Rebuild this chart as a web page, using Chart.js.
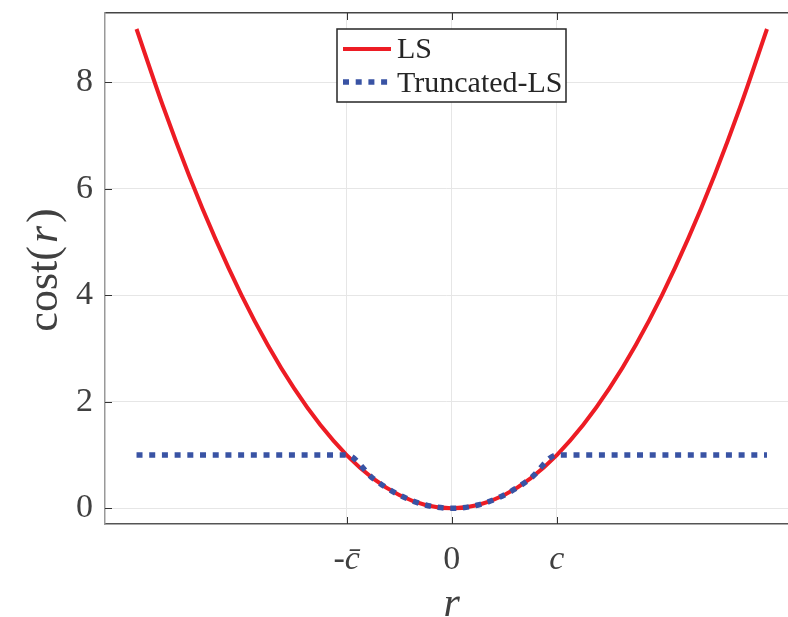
<!DOCTYPE html>
<html>
<head>
<meta charset="utf-8">
<script src="https://cdn.jsdelivr.net/npm/chart.js@4.4.1/dist/chart.umd.min.js"></script>
<style>
html,body{margin:0;padding:0;background:#fff;overflow:hidden;}
canvas{display:block;}
</style>
</head>
<body>
<canvas id="c" width="788" height="617"></canvas>
<script>
// ---- data ----
const rValues = [-3, -2.75, -2.5, -2.25, -2, -1.75, -1.5, -1.25, -1, -0.75, -0.5, -0.25, 0,
                 0.25, 0.5, 0.75, 1, 1.25, 1.5, 1.75, 2, 2.25, 2.5, 2.75, 3];
const lsCost = [9, 7.5625, 6.25, 5.0625, 4, 3.0625, 2.25, 1.5625, 1, 0.5625, 0.25, 0.0625, 0,
                0.0625, 0.25, 0.5625, 1, 1.5625, 2.25, 3.0625, 4, 5.0625, 6.25, 7.5625, 9];
const truncCost = [1, 1, 1, 1, 1, 1, 1, 1, 1, 0.5625, 0.25, 0.0625, 0,
                   0.0625, 0.25, 0.5625, 1, 1, 1, 1, 1, 1, 1, 1, 1];
const xTickValues = [-1, 0, 1];
const xTickLabels = ['-c\u0304', '0', 'c'];
const yTickValues = [0, 2, 4, 6, 8];
const seriesNames = ['LS', 'Truncated-LS'];

const RED = '#ED1C24';
const BLUE = '#3953A4';
const SERIF = '"Liberation Serif", "DejaVu Serif", serif';

const toPts = (xs, ys) => xs.map((x, i) => ({x: x, y: ys[i]}));

const decor = {
  id: 'decor',
  afterDraw(chart) {
    const ctx = chart.ctx;
    const a = chart.chartArea;
    const xs = chart.scales.x, ys = chart.scales.y;
    ctx.save();
    // inward tick marks
    ctx.strokeStyle = '#333';
    ctx.lineWidth = 1;
    ctx.beginPath();
    xTickValues.forEach(v => {
      const px = Math.round(xs.getPixelForValue(v)) + 0.5;
      ctx.moveTo(px, a.bottom); ctx.lineTo(px, a.bottom - 7);
      ctx.moveTo(px, a.top); ctx.lineTo(px, a.top + 7);
    });
    yTickValues.forEach(v => {
      const py = Math.round(ys.getPixelForValue(v)) + 0.5;
      ctx.moveTo(a.left, py); ctx.lineTo(a.left + 7, py);
    });
    ctx.stroke();

    // legend
    const lx = 337, ly = 29, lw = 229, lh = 73;
    ctx.fillStyle = '#fff';
    ctx.fillRect(lx, ly, lw, lh);
    ctx.strokeStyle = '#262626';
    ctx.lineWidth = 1.5;
    ctx.strokeRect(lx, ly, lw, lh);
    ctx.lineCap = 'butt';
    ctx.strokeStyle = RED; ctx.lineWidth = 4;
    ctx.beginPath(); ctx.moveTo(343, 49); ctx.lineTo(391, 49); ctx.stroke();
    ctx.strokeStyle = BLUE; ctx.lineWidth = 5.5; ctx.setLineDash([6, 6.7]);
    ctx.beginPath(); ctx.moveTo(343, 82); ctx.lineTo(391, 82); ctx.stroke();
    ctx.setLineDash([]);
    ctx.fillStyle = '#262626';
    ctx.font = '30px ' + SERIF;
    ctx.textBaseline = 'middle';
    ctx.textAlign = 'left';
    ctx.fillText(seriesNames[0], 397, 50);
    ctx.fillText(seriesNames[1], 397, 84);

    // axis titles
    ctx.fillStyle = '#404040';
    ctx.font = 'italic 42px ' + SERIF;
    ctx.textAlign = 'center';
    ctx.textBaseline = 'alphabetic';
    ctx.fillText('r', xs.getPixelForValue(0), 616);
    // y title rotated
    ctx.save();
    ctx.translate(57, 270);
    ctx.rotate(-Math.PI / 2);
    const FS = 44;
    const parts = [['cost(', 'normal', 0], ['r', 'italic', 3], [')', 'normal', 0]];
    let total = 0;
    parts.forEach(p => { ctx.font = p[1] + ' ' + FS + 'px ' + SERIF; total += ctx.measureText(p[0]).width + 2 * p[2]; });
    let cx = -total / 2;
    ctx.textAlign = 'left';
    parts.forEach(p => {
      ctx.font = p[1] + ' ' + FS + 'px ' + SERIF;
      cx += p[2];
      ctx.fillText(p[0], cx, 0);
      cx += ctx.measureText(p[0]).width + p[2];
    });
    ctx.restore();
    ctx.restore();
  }
};

new Chart(document.getElementById('c'), {
  type: 'scatter',
  data: {
    datasets: [
      {
        label: seriesNames[1],
        data: toPts(rValues, truncCost),
        showLine: true,
        borderColor: BLUE,
        borderWidth: 5.5,
        borderDash: [6, 6.7],
        borderCapStyle: 'butt',
        pointRadius: 0,
        cubicInterpolationMode: 'monotone',
        order: 0
      },
      {
        label: seriesNames[0],
        data: toPts(rValues, lsCost),
        showLine: true,
        borderColor: RED,
        borderWidth: 4,
        pointRadius: 0,
        cubicInterpolationMode: 'monotone',
        order: 1
      }
    ]
  },
  options: {
    responsive: false,
    animation: false,
    layout: {padding: 0},
    plugins: {legend: {display: false}, tooltip: {enabled: false}},
    scales: {
      x: {
        type: 'linear', position: 'bottom', min: -3.3, max: 3.2,
        afterBuildTicks: s => { s.ticks = xTickValues.map(v => ({value: v})); },
        afterFit: s => { s.height = 93; s.paddingLeft = 0; s.paddingRight = 0; },
        grid: {color: '#e6e6e6', lineWidth: 1, drawTicks: false},
        border: {color: '#555', width: 1.5},
        ticks: {
          color: '#404040', padding: 16, maxRotation: 0, autoSkip: false,
          font: ctx => ({family: SERIF, size: 34, style: (ctx.tick && ctx.tick.value !== 0) ? 'italic' : 'normal'}),
          callback: (v) => { const i = xTickValues.indexOf(v); return i >= 0 ? xTickLabels[i] : ''; }
        }
      },
      x2: {
        type: 'linear', position: 'top', min: -3.3, max: 3.2,
        afterFit: s => { s.height = 13; s.paddingLeft = 0; s.paddingRight = 0; },
        grid: {display: false, drawTicks: false},
        border: {color: '#444', width: 1.5},
        ticks: {display: false}
      },
      y: {
        type: 'linear', position: 'left', min: -0.295, max: 9.3,
        afterBuildTicks: s => { s.ticks = yTickValues.map(v => ({value: v})); },
        afterFit: s => { s.width = 105; s.paddingTop = 0; s.paddingBottom = 0; },
        grid: {color: '#e6e6e6', lineWidth: 1, drawTicks: false},
        border: {color: '#999', width: 1.5},
        ticks: {color: '#404040', padding: 12, font: {family: SERIF, size: 34}}
      }
    }
  },
  plugins: [decor]
});
</script>
</body>
</html>
